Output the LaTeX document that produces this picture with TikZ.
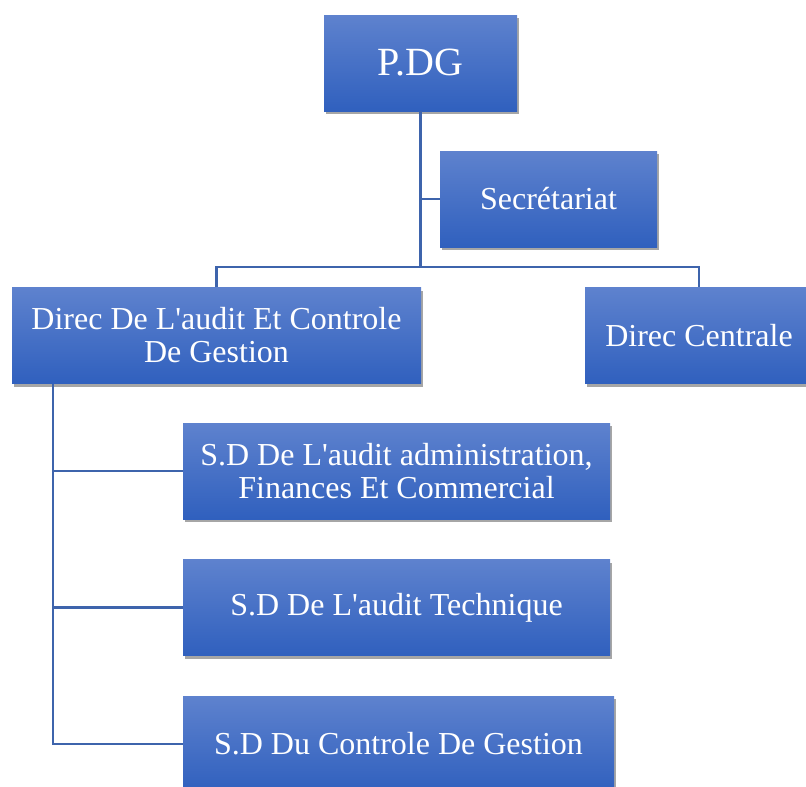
\documentclass[tikz,border=0pt]{standalone}
\usepackage{fontspec}
\setmainfont{Liberation Serif}
\usetikzlibrary{positioning,shadows}
\definecolor{boxtop}{RGB}{94,130,206}
\definecolor{boxbot}{RGB}{48,96,190}
\definecolor{linkblue}{RGB}{62,100,172}

\begin{document}
\begin{tikzpicture}[x=1pt,y=-1pt,
unit/.style={rectangle, top color=boxtop, bottom color=boxbot, text=white, inner sep=0pt, align=center,
  drop shadow={shadow xshift=2pt, shadow yshift=-3pt, opacity=0.35, fill=black},
  font=\fontsize{32}{33}\selectfont, minimum height=96pt},
link/.style={draw=linkblue, line width=2.2pt},
]
\useasboundingbox (0,0) rectangle (806,787);

\node[unit, minimum width=193pt, font=\fontsize{40}{44}\selectfont] (pdg) at (420.5,63) {P.DG};
\node[unit, minimum width=217pt] (sec) at (548.5,199) {Secrétariat};
\node[unit, minimum width=409pt] (dac) at (216.5,335.5) {Direc De L\textquotesingle audit Et Controle\\De Gestion};
\node[unit, minimum width=228pt] (dc) at (699,335.5) {Direc Centrale};
\node[unit, minimum width=427pt] (sd1) at (396.5,471) {S.D De L\textquotesingle audit administration,\\Finances Et Commercial};
\node[unit, minimum width=427pt] (sd2) at (396.5,607.5) {S.D De L\textquotesingle audit Technique};
\node[unit, minimum width=431pt] (sd3) at (398.5,744) {S.D Du Controle De Gestion};

\coordinate (bar) at (420.5,267);
\coordinate (trunk) at ([xshift=41pt]dac.south west);

\draw[link] (pdg.south) -- (bar);
\draw[link] (pdg.south) |- (sec.west);
\draw[link] (dac.north) |- (bar) -| (dc.north);
\draw[link] (trunk) |- (sd3.west);
\draw[link] (trunk |- sd1.west) -- (sd1.west);
\draw[link] (trunk |- sd2.west) -- (sd2.west);
\end{tikzpicture}
\end{document}
